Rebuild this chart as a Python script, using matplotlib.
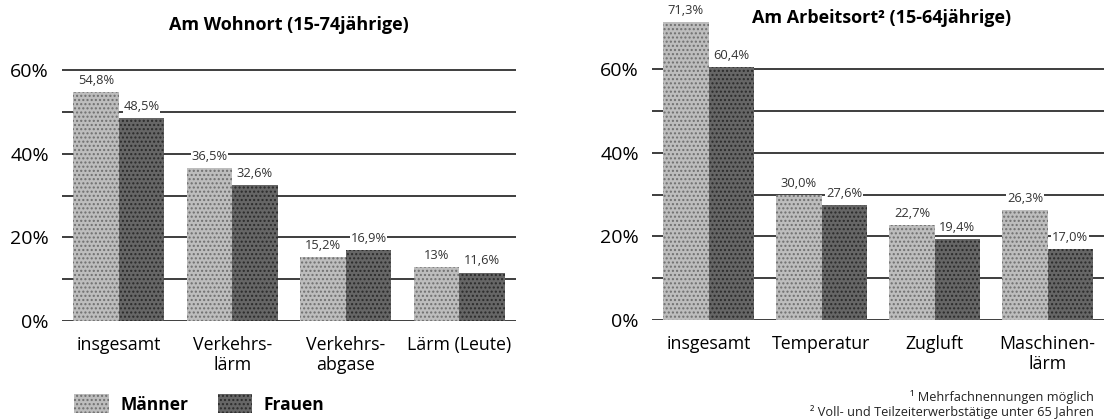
import matplotlib
matplotlib.use("Agg")
import matplotlib.pyplot as plt
from matplotlib.patches import Patch
import numpy as np

plt.rcParams['font.family'] = ['Open Sans', 'DejaVu Sans']

# data
wohn_categories = ["insgesamt", "Verkehrs-\nlärm", "Verkehrs-\nabgase", "Lärm (Leute)"]
wohn_maenner = [54.8, 36.5, 15.2, 13.0]
wohn_frauen = [48.5, 32.6, 16.9, 11.6]
wohn_maenner_labels = ["54,8%", "36,5%", "15,2%", "13%"]
wohn_frauen_labels = ["48,5%", "32,6%", "16,9%", "11,6%"]

arbeit_categories = ["insgesamt", "Temperatur", "Zugluft", "Maschinen-\nlärm"]
arbeit_maenner = [71.3, 30.0, 22.7, 26.3]
arbeit_frauen = [60.4, 27.6, 19.4, 17.0]
arbeit_maenner_labels = ["71,3%", "30,0%", "22,7%", "26,3%"]
arbeit_frauen_labels = ["60,4%", "27,6%", "19,4%", "17,0%"]

y_ticks = [0, 20, 40, 60]
y_ticklabels = ["0%", "20%", "40%", "60%"]

MAENNER_STYLE = dict(facecolor='#bdbdbd', edgecolor='#6f6f6f', hatch='....', linewidth=0)
FRAUEN_STYLE = dict(facecolor='#666666', edgecolor='#2a2a2a', hatch='....', linewidth=0)
BAR_W = 0.4

W, H = 1104, 419
fig = plt.figure(figsize=(W / 100, H / 100), dpi=100)


def draw_panel(ax, categories, maenner, frauen, m_labels, f_labels):
    x = np.arange(len(categories))
    # grid lines every 10 %
    for level in range(0, 61, 10):
        ax.axhline(level, color='#1e1e1e', lw=1.2, zorder=0)
    ax.bar(x - BAR_W / 2, maenner, BAR_W, zorder=2, **MAENNER_STYLE)
    ax.bar(x + BAR_W / 2, frauen, BAR_W, zorder=2, **FRAUEN_STYLE)
    for xi, val, lab in zip(x - BAR_W / 2, maenner, m_labels):
        ax.text(xi, val + 1.2, lab, ha='center', va='bottom', fontsize=9.3,
                color='#333333', zorder=3,
                bbox=dict(facecolor='white', edgecolor='none', pad=0.5))
    for xi, val, lab in zip(x + BAR_W / 2, frauen, f_labels):
        ax.text(xi, val + 1.2, lab, ha='center', va='bottom', fontsize=9.3,
                color='#333333', zorder=3,
                bbox=dict(facecolor='white', edgecolor='none', pad=0.5))
    ax.set_xlim(-0.5, 3.5)
    ax.set_ylim(0, 72)
    ax.set_yticks(y_ticks)
    ax.set_yticklabels(y_ticklabels, fontsize=14)
    ax.set_xticks(x)
    ax.set_xticklabels(categories, fontsize=12.8, linespacing=1.1)
    ax.tick_params(axis='y', length=0, pad=9.5)
    ax.tick_params(axis='x', length=0, pad=11)
    for side in ax.spines.values():
        side.set_visible(False)


ax1 = fig.add_axes([62 / W, (H - 321) / H, 454 / W, 301 / H])
draw_panel(ax1, wohn_categories, wohn_maenner, wohn_frauen,
           wohn_maenner_labels, wohn_frauen_labels)

ax2 = fig.add_axes([652 / W, (H - 320) / H, 452 / W, 301 / H])
draw_panel(ax2, arbeit_categories, arbeit_maenner, arbeit_frauen,
           arbeit_maenner_labels, arbeit_frauen_labels)

fig.text(289 / W, 1 - 25 / H, "Am Wohnort (15-74jährige)", ha='center', va='center',
         fontsize=13, fontweight='bold')
fig.text(882 / W, 1 - 18 / H, "Am Arbeitsort² (15-64jährige)", ha='center', va='center',
         fontsize=13, fontweight='bold')

handles = [Patch(**MAENNER_STYLE), Patch(**FRAUEN_STYLE)]
fig.legend(handles, ["Männer", "Frauen"], loc='center left',
           bbox_to_anchor=(74 / W, 1 - 404 / H), ncol=2, frameon=False,
           prop=dict(weight='bold', size=12.5), handlelength=2.0, handleheight=1.3,
           handletextpad=0.65, columnspacing=1.7, borderpad=0, borderaxespad=0)

fig.text(1094 / W, 1 - 397 / H, "¹ Mehrfachnennungen möglich", ha='right', va='center',
         fontsize=9.2, color='#222222')
fig.text(1094 / W, 1 - 412 / H, "² Voll- und Teilzeiterwerbstätige unter 65 Jahren",
         ha='right', va='center', fontsize=9.2, color='#222222')

fig.savefig("out.png", dpi=100)
